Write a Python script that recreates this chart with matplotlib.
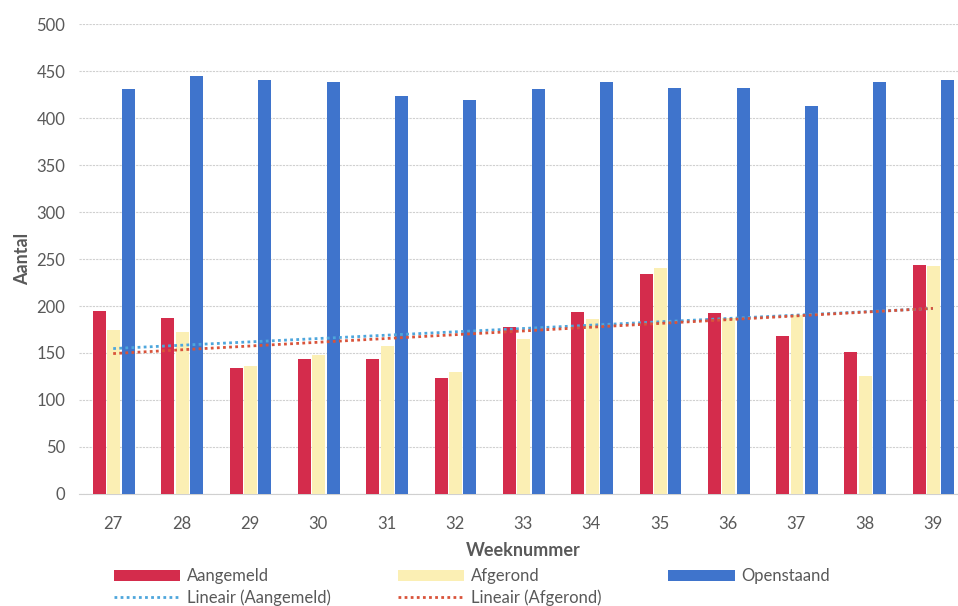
import numpy as np
import matplotlib
matplotlib.use("Agg")
import matplotlib.pyplot as plt

plt.rcParams['font.family'] = ['Lato', 'DejaVu Sans']

weeks = [27, 28, 29, 30, 31, 32, 33, 34, 35, 36, 37, 38, 39]
aangemeld = [195, 187, 134, 144, 144, 123, 178, 194, 234, 193, 168, 151, 244]
afgerond = [175, 172, 136, 148, 157, 130, 165, 186, 241, 187, 190, 125, 243]
openstaand = [431, 445, 441, 439, 424, 419, 431, 438, 432, 432, 413, 439, 441]

red = '#d42c4c'
yellow = '#fbefb4'
blue = '#3f74cc'
grey = '#595959'

fig = plt.figure(figsize=(9.58, 6.06), dpi=100)
ax = fig.add_axes([0.0825, 0.185, 0.927, 0.775])

x = np.arange(len(weeks))
w = 0.19
ax.bar(x - 0.2, aangemeld, w, color=red, label='Aangemeld', zorder=3)
ax.bar(x + 0.01, afgerond, w, color=yellow, label='Afgerond', zorder=3)
ax.bar(x + 0.22, openstaand, w, color=blue, label='Openstaand', zorder=3)

# lineaire trendlijnen zoals in Excel
pa = np.polyfit(x, aangemeld, 1)
pf = np.polyfit(x, afgerond, 1)
ax.plot(x, np.polyval(pa, x), ls=(0, (1, 1.2)), lw=2, color='#4ea6dc',
        label='Lineair (Aangemeld)', zorder=4)
ax.plot(x, np.polyval(pf, x), ls=(0, (1, 1.2)), lw=2, color='#d9533a',
        label='Lineair (Afgerond)', zorder=4)

ax.set_xlim(-0.5, len(weeks) - 0.5)
ax.set_ylim(0, 500)
ax.set_yticks(range(0, 501, 50))
ax.set_xticks(x)
ax.set_xticklabels([str(wk) for wk in weeks])
ax.tick_params(axis='both', length=0, labelsize=12, colors=grey)
ax.tick_params(axis='x', pad=16)
ax.tick_params(axis='y', pad=10)
ax.yaxis.grid(True, color='#d0d0d0', lw=0.8, ls=(0, (2, 1)), zorder=0)
for s in ['top', 'right', 'left']:
    ax.spines[s].set_visible(False)
ax.spines['bottom'].set_color('#d0d0d0')

ax.set_xlabel('Weeknummer', fontsize=13, fontweight='bold', color=grey, labelpad=7)
ax.set_ylabel('Aantal', fontsize=13, fontweight='bold', color=grey, labelpad=4)

h, l = ax.get_legend_handles_labels()
lab_order = ['Aangemeld', 'Lineair (Aangemeld)', 'Afgerond',
             'Lineair (Afgerond)', 'Openstaand']
order = [l.index(name) for name in lab_order]
leg = fig.legend([h[i] for i in order], [l[i] for i in order],
                 loc='lower left', bbox_to_anchor=(0.103, -0.024), ncol=3,
                 frameon=False, fontsize=12, handlelength=4.0, handleheight=0.65,
                 columnspacing=4.0, labelspacing=0.3, handletextpad=0.4)
for t in leg.get_texts():
    t.set_color(grey)

fig.savefig('out.png', dpi=100)
